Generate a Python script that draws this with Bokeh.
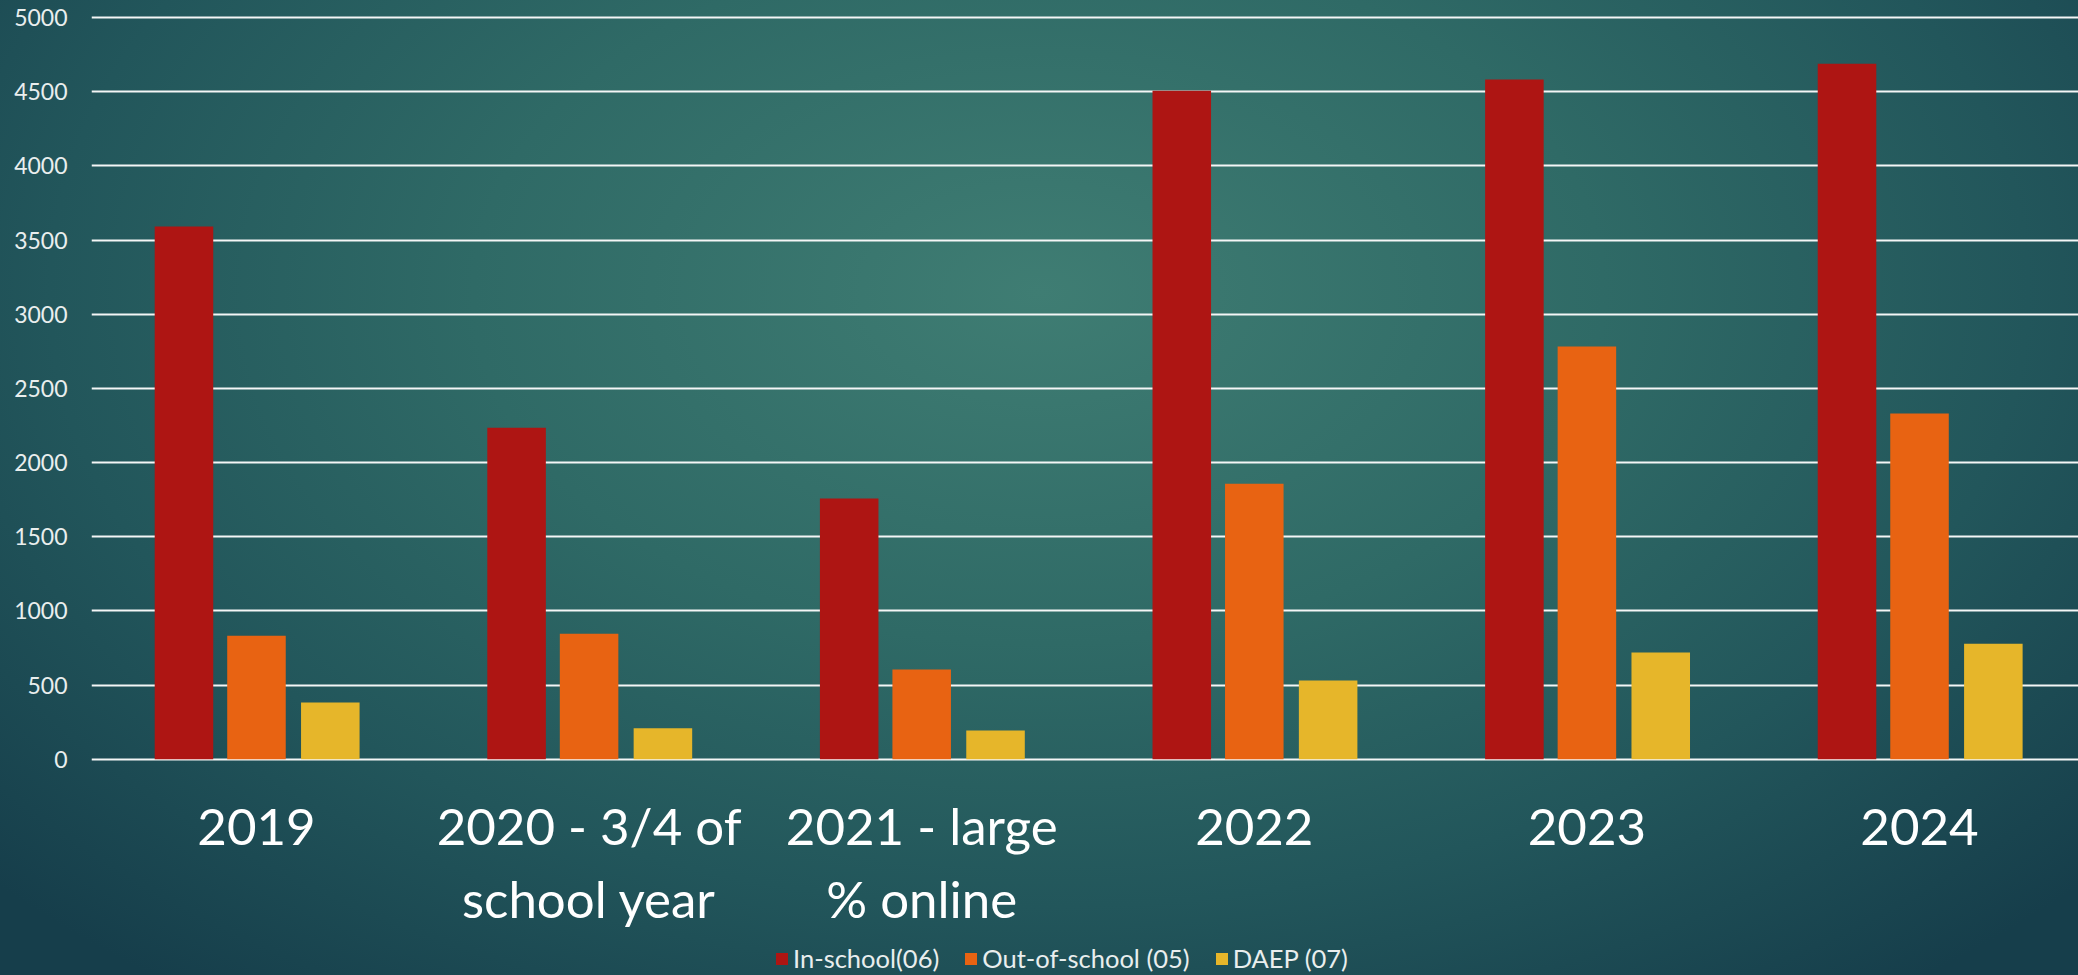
from bokeh.plotting import figure
from bokeh.models import ColumnDataSource, Range1d, FixedTicker, Legend, LegendItem
from bokeh.transform import dodge
from bokeh.embed import file_html
from bokeh.resources import INLINE

# ---- data ----
categories = ["2019", "2020 - 3/4 of\nschool year", "2021 - large\n% online", "2022", "2023", "2024"]
in_school = [3592, 2235, 1757, 4507, 4582, 4688]
out_of_school = [833, 846, 605, 1857, 2782, 2331]
daep = [382, 208, 193, 530, 719, 779]
series_names = ["In-school(06)", "Out-of-school (05)", "DAEP (07)"]
series_colors = ["#ae1513", "#e86312", "#e6b62a"]
y_ticks = [0, 500, 1000, 1500, 2000, 2500, 3000, 3500, 4000, 4500, 5000]

FONT = "Lato"

source = ColumnDataSource(data=dict(
    x=list(range(len(categories))),
    in_school=in_school,
    out_of_school=out_of_school,
    daep=daep,
))

# frame covers the whole height; the value axis occupies its upper part
p = figure(width=2078, height=975, output_backend="svg", toolbar_location=None,
           x_range=Range1d(-0.496, 5.478), y_range=Range1d(-1458, 5034),
           min_border_left=91, min_border_right=0, min_border_top=12,
           min_border_bottom=0)

p.background_fill_color = None
p.border_fill_color = None
p.outline_line_color = None
p.styles = {"background": "radial-gradient(ellipse 68% 90% at 50% 30%, #3f7d73 0%, #2f6a66 40%, #22565b 70%, #163e4b 100%)"}

cols = ["in_school", "out_of_school", "daep"]
offsets = [-0.218, 0.0, 0.222]
renderers = []
for col, off, colr in zip(cols, offsets, series_colors):
    r = p.vbar(x=dodge("x", off, range=p.x_range), top=col, width=0.176, bottom=0,
               source=source, fill_color=colr, line_color=None)
    renderers.append(r)

# grid
p.xgrid.grid_line_color = None
p.ygrid.grid_line_color = "#f4f6f6"
p.ygrid.grid_line_width = 2
p.ygrid.ticker = FixedTicker(ticks=y_ticks)

# y axis
p.yaxis.ticker = FixedTicker(ticks=y_ticks)
p.yaxis.axis_line_color = None
p.yaxis.major_tick_line_color = None
p.yaxis.minor_tick_line_color = None
p.yaxis.major_tick_out = 0
p.yaxis.major_label_standoff = 24
p.yaxis.major_label_text_font = FONT
p.yaxis.major_label_text_font_size = "23px"
p.yaxis.major_label_text_color = "#e9eeee"

# x axis, pinned at value 0
p.xaxis.fixed_location = 0
p.xaxis.ticker = FixedTicker(ticks=list(range(len(categories))))
p.xaxis.major_label_overrides = {i: c for i, c in enumerate(categories)}
p.xaxis.axis_line_color = None
p.xaxis.major_tick_line_color = None
p.xaxis.minor_tick_line_color = None
p.xaxis.major_tick_out = 0
p.xaxis.major_tick_in = 0
p.xaxis.major_label_standoff = 36
p.xaxis.major_label_text_font = FONT
p.xaxis.major_label_text_font_size = "51px"
p.xaxis.major_label_text_color = "#ffffff"
p.xaxis.major_label_text_line_height = 1.2

legend = Legend(items=[LegendItem(label=n, renderers=[r]) for n, r in zip(series_names, renderers)],
                orientation="horizontal", location=(683, 2),
                background_fill_alpha=0, border_line_color=None,
                label_text_color="#e9eeee", label_text_font=FONT, label_text_font_size="25.5px",
                glyph_width=15, glyph_height=15, label_standoff=4, spacing=24,
                padding=0, margin=0)
p.add_layout(legend, "center")

open("out.html", "w").write(file_html(p, INLINE))
